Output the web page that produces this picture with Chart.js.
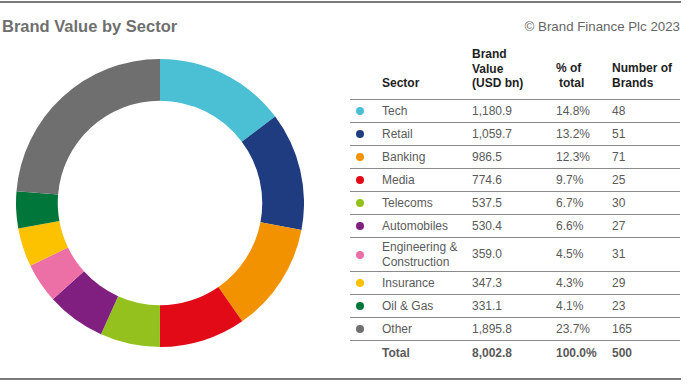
<!DOCTYPE html>
<html>
<head>
<meta charset="utf-8">
<script src="https://cdn.jsdelivr.net/npm/chart.js@4"></script>
<style>
  body { margin: 0; background: #fff; font-family: "Liberation Sans", Arial, sans-serif; }
  #page { position: relative; width: 700px; height: 390px; overflow: hidden; }
  .rule { position: absolute; height: 2px; background: #7a7a7a; }
  #title { position: absolute; left: 2px; top: 17px; font-size: 16.5px; font-weight: bold; color: #6f6f6f; }
  #copy { position: absolute; right: 20px; top: 19px; font-size: 13.3px; color: #666; }
  #chartBox { position: absolute; left: 16px; top: 59px; width: 288px; height: 288px; }
  .hd { position: absolute; font-size: 12px; font-weight: bold; color: #1e1e1e; line-height: 14.5px; }
  .row { position: absolute; left: 350px; width: 330px; display: flex; align-items: center;
         font-size: 12px; color: #5a5a5a; border-bottom: 1px solid #8a8a8a; box-sizing: border-box; }
  .row div { position: absolute; line-height: 14.5px; }
  .dot { width: 8px; height: 8px; border-radius: 50%; left: 6px; }
</style>
</head>
<body>
<div id="page">
  <div class="rule" style="left:0;top:1px;width:681px;"></div>
  <div id="title">Brand Value by Sector</div>
  <div id="copy">© Brand Finance Plc 2023</div>
  <div id="chartBox"><canvas id="chart" width="288" height="288"></canvas></div>

  <div class="hd" style="left:382px;top:76px;">Sector</div>
  <div class="hd" style="left:472px;top:47px;">Brand<br>Value<br>(USD bn)</div>
  <div class="hd" style="left:556px;top:61px;">% of<br><span style="padding-left:3px">total</span></div>
  <div class="hd" style="left:612px;top:61px;">Number of<br>Brands</div>
  <div class="rule" style="left:350px;top:99px;width:330px;height:1px;background:#8a8a8a;"></div>

  <div id="rows"></div>
  <div class="rule" style="left:0;top:378px;width:681px;"></div>
</div>

<script>
const sectors = ['Tech', 'Retail', 'Banking', 'Media', 'Telecoms', 'Automobiles',
                 'Engineering &\nConstruction', 'Insurance', 'Oil & Gas', 'Other'];
const brandValues = [1180.9, 1059.7, 986.5, 774.6, 537.5, 530.4, 359.0, 347.3, 331.1, 1895.8];
const shares = ['14.8%', '13.2%', '12.3%', '9.7%', '6.7%', '6.6%', '4.5%', '4.3%', '4.1%', '23.7%'];
const brandCounts = [48, 51, 71, 25, 30, 27, 31, 29, 23, 165];
const colors = ['#4bbfd4', '#1f3c80', '#f29200', '#e20a16', '#95c11f',
                '#801f80', '#ec6fa6', '#fcc200', '#00763a', '#6f6f6f'];
const totalRow = ['Total', '8,002.8', '100.0%', '500'];

function fmt(v) {
    return v.toLocaleString('en-US', { minimumFractionDigits: 1, maximumFractionDigits: 1 });
}

function buildTable() {
    let html = '';
    let y = 100;
    sectors.forEach((s, i) => {
        let h = s.includes('\n') ? 34 : 23;
        html += `<div class="row" style="top:${y}px;height:${h}px;">
                    <div class="dot" style="background:${colors[i]}"></div>
                    <div style="left:32px">${s.replace(/&/g, '&amp;').replace('\n', '<br>')}</div>
                    <div style="left:122px">${fmt(brandValues[i])}</div>
                    <div style="left:206px">${shares[i]}</div>
                    <div style="left:262px">${brandCounts[i]}</div>
                 </div>`;
        y += h;
    });
    html += `<div class="row" style="top:${y}px;height:25px;border-bottom:none;font-weight:bold;">
                <div style="left:32px">${totalRow[0]}</div>
                <div style="left:122px">${totalRow[1]}</div>
                <div style="left:206px">${totalRow[2]}</div>
                <div style="left:262px">${totalRow[3]}</div>
             </div>`;
    document.getElementById('rows').innerHTML = html;
}

function drawChart() {
    let ctx = document.getElementById('chart').getContext('2d');
    new Chart(ctx, {
        type: 'doughnut',
        data: {
            labels: sectors,
            datasets: [{
                data: brandValues,
                backgroundColor: colors,
                borderWidth: 0
            }]
        },
        options: {
            responsive: false,
            animation: false,
            cutout: '71%',
            layout: { padding: 0 },
            plugins: {
                legend: { display: false },
                tooltip: { enabled: false }
            }
        }
    });
}

buildTable();
drawChart();
</script>
</body>
</html>
